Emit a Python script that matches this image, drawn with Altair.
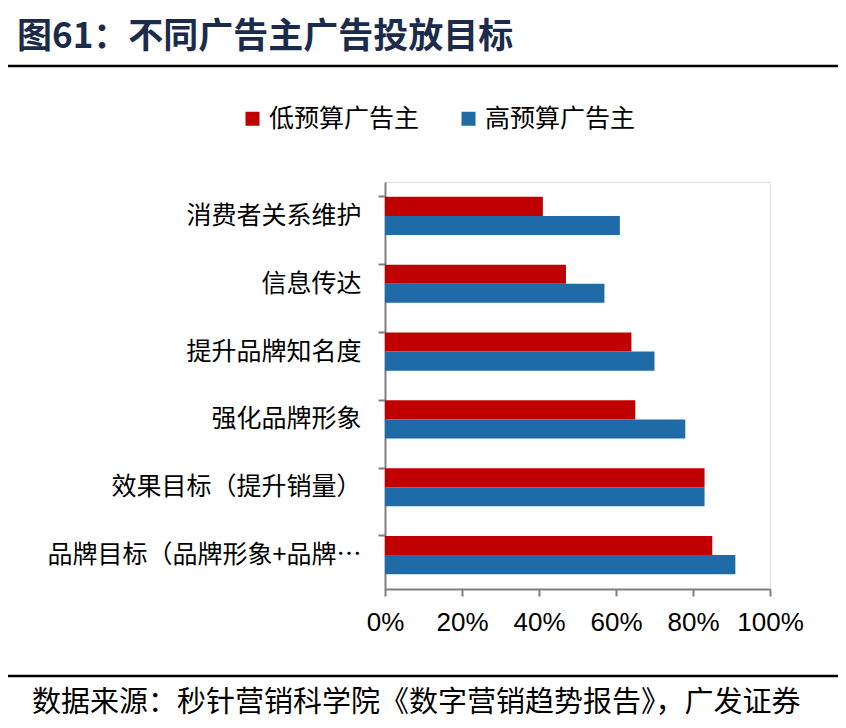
import altair as alt
import pandas as pd

categories = ["消费者关系维护", "信息传达", "提升品牌知名度", "强化品牌形象",
              "效果目标（提升销量）", "品牌目标（品牌形象+品牌知名度）"]
series = ["低预算广告主", "高预算广告主"]
low_budget = [41, 47, 64, 65, 83, 85]
high_budget = [61, 57, 70, 78, 83, 91]
x_ticks = [0, 20, 40, 60, 80, 100]
colors = ["#C00000", "#1F6BA8"]

rows = []
for c, lo, hi in zip(categories, low_budget, high_budget):
    rows.append({"cat": c, "series": series[0], "value": lo})
    rows.append({"cat": c, "series": series[1], "value": hi})
df = pd.DataFrame(rows)

CJK = "Noto Sans CJK SC"
W, H = 385, 407
PL, PT = 377, 174

yscale = alt.Scale(paddingInner=0.437, paddingOuter=0.2185)

bars = alt.Chart(df).mark_bar().encode(
    x=alt.X("value:Q", scale=alt.Scale(domain=[0, 100]),
            axis=alt.Axis(values=x_ticks, labelExpr="datum.value + '%'", title=None,
                          grid=False, labelFont="Liberation Sans", labelFontSize=26,
                          labelColor="#000000", domainColor="#7f7f7f", domainWidth=2,
                          tickColor="#7f7f7f", tickWidth=2, tickSize=7, labelPadding=13,
                          labelOverlap=False, labelFlush=False)),
    y=alt.Y("cat:N", sort=categories, scale=yscale,
            axis=alt.Axis(title=None, ticks=False, domain=False, labelFont=CJK,
                          labelFontSize=25, labelColor="#000000", labelPadding=24,
                          labelLimit=322, orient="left")),
    yOffset=alt.YOffset("series:N", sort=series),
    color=alt.Color("series:N", sort=series,
                    scale=alt.Scale(domain=series, range=colors),
                    legend=alt.Legend(title=None, orient="none", direction="horizontal",
                                      legendX=-145, legendY=-76, symbolType="square",
                                      symbolSize=196, symbolStrokeWidth=0,
                                      labelFont=CJK, labelFontSize=25, labelColor="#000000",
                                      columnPadding=36, labelOffset=4)),
)

tick_axis = alt.Chart(df).mark_bar(opacity=0).encode(
    y=alt.Y("cat:N", sort=categories, scale=yscale,
            axis=alt.Axis(title=None, labels=False, ticks=True, bandPosition=0,
                          domain=True, domainColor="#7f7f7f", domainWidth=2,
                          tickColor="#7f7f7f", tickWidth=2, tickSize=7, orient="left")),
    x=alt.X("value:Q"),
)

title = alt.Chart(pd.DataFrame({"t": ["图61：不同广告主广告投放目标"]})).mark_text(
    font=CJK, fontSize=35, fontWeight="bold", color="#1B2B4B", align="left", baseline="middle"
).encode(text="t:N", x=alt.value(17 - PL - 8), y=alt.value(37 - PT - 8))

footer = alt.Chart(pd.DataFrame({"t": ["数据来源：秒针营销科学院《数字营销趋势报告》，广发证券"]})).mark_text(
    font=CJK, fontSize=29, color="#000000", align="left", baseline="middle"
).encode(text="t:N", x=alt.value(32 - PL - 8), y=alt.value(703 - PT - 8))

rule_top = alt.Chart(pd.DataFrame({"a": [0]})).mark_rule(color="#000000", strokeWidth=2.5).encode(
    x=alt.value(8 - PL - 8), x2=alt.value(838 - PL - 8), y=alt.value(66 - PT - 8))
rule_bot = alt.Chart(pd.DataFrame({"a": [0]})).mark_rule(color="#000000", strokeWidth=2.5).encode(
    x=alt.value(8 - PL - 8), x2=alt.value(838 - PL - 8), y=alt.value(676 - PT - 8))

chart = alt.layer(bars, tick_axis, title, footer, rule_top, rule_bot).resolve_axis(
    y="independent"
).properties(
    width=W, height=H,
    autosize=alt.AutoSizeParams(type="none"),
    padding={"left": PL, "top": PT, "right": 830 - PL - W, "bottom": 712 - PT - H},
).configure_view(stroke=None).configure(background="#ffffff")

chart.save("out.html", embed_options={"renderer": "svg", "actions": False})
